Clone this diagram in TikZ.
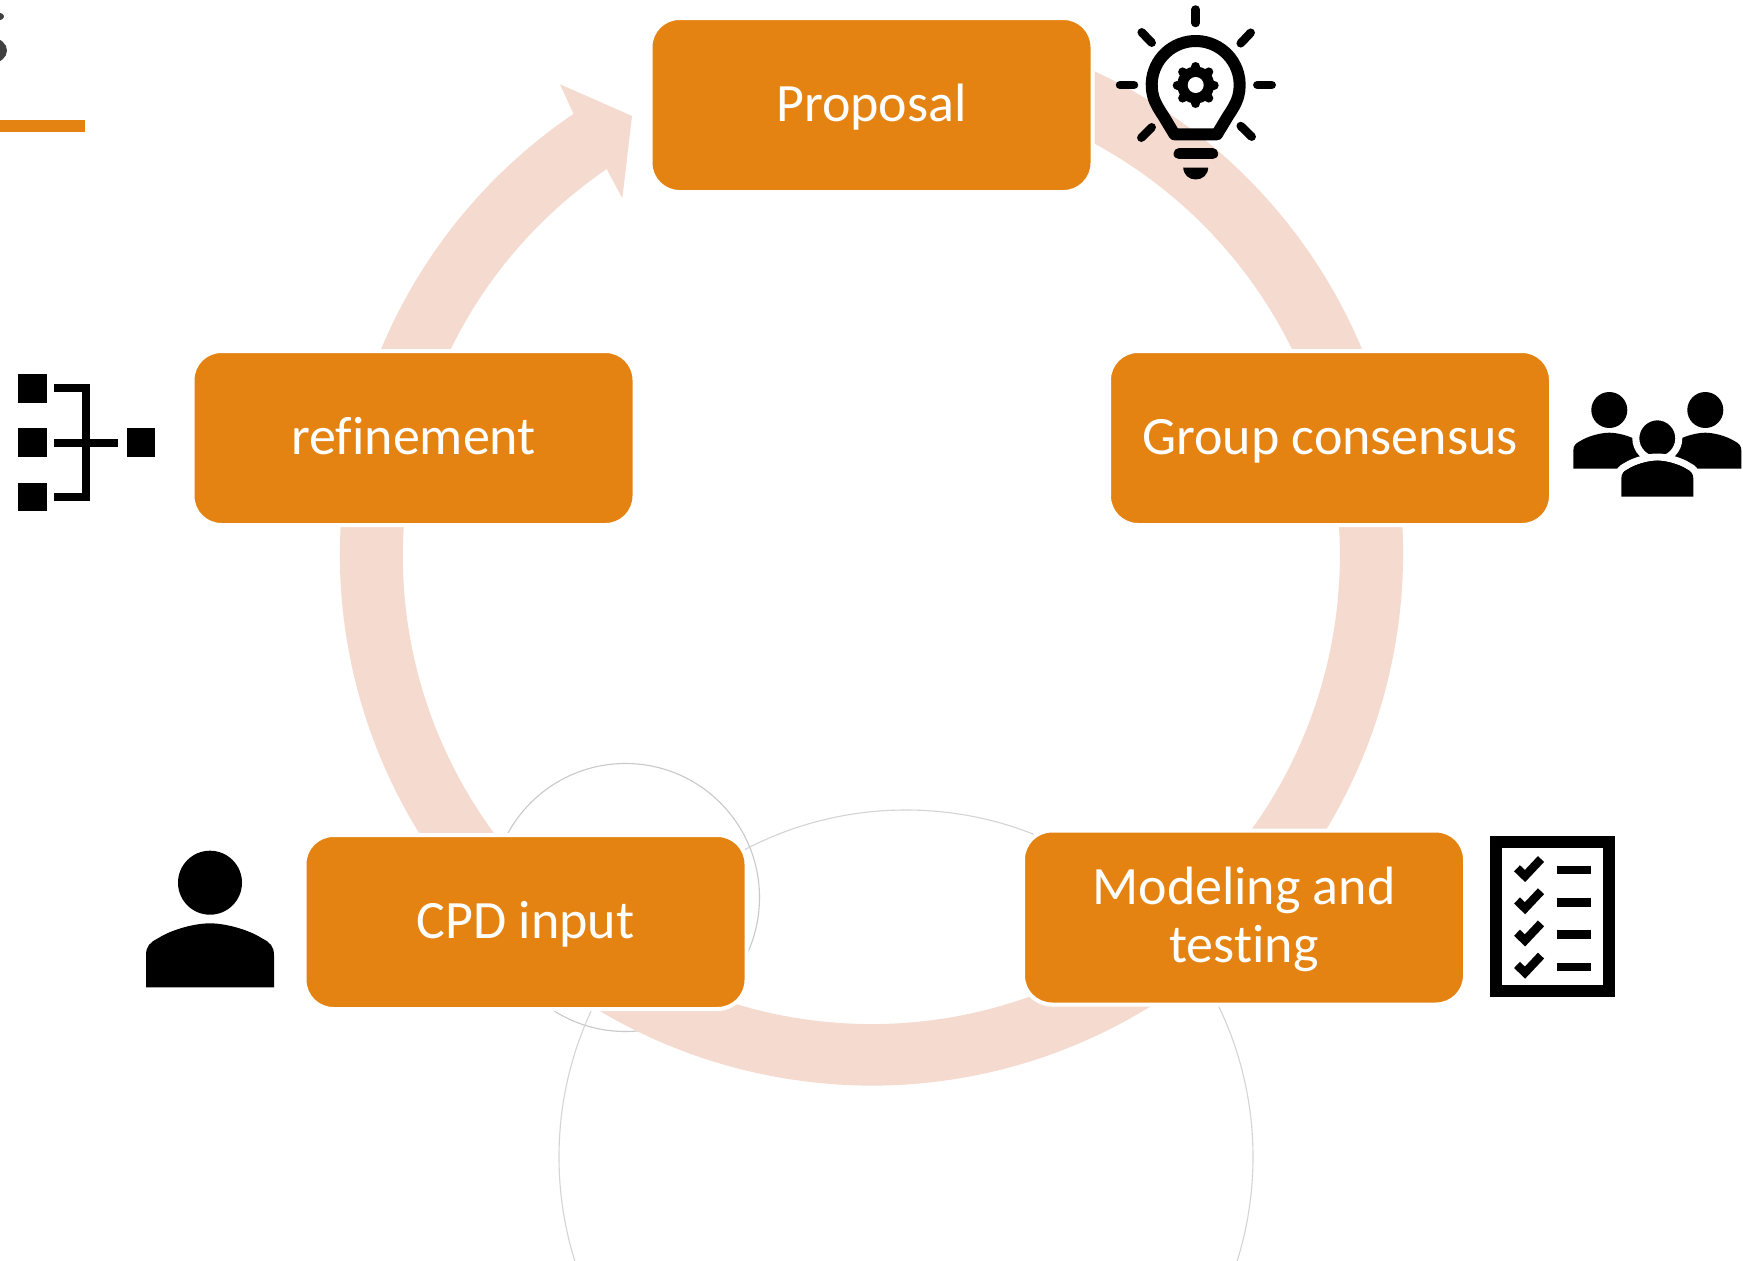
\documentclass[tikz,border=0pt]{standalone}
\usepackage{fontspec}
\setmainfont[Ligatures=NoCommon]{Carlito}
\definecolor{ringpink}{HTML}{F5DACF}
\definecolor{boxorange}{HTML}{E48312}
\definecolor{thinarc}{HTML}{C9C9C9}
\definecolor{glyphgrey}{HTML}{404040}
\newcommand{\linestrut}{\rule[-12pt]{0pt}{56pt}}
\tikzset{
  stagebox/.style={rectangle,rounded corners=29pt,minimum width=442pt,minimum height=174pt,
    fill=boxorange,draw=white,line width=4pt,text=white,align=center,inner sep=0pt,
    font=\fontsize{54}{58}\selectfont},
  bodyshape/.pic={
    \path[pic actions] (-64,64) -- (-64,32) .. controls (-64,23) and (-60,19) .. (-52,15)
      .. controls (-38,6) and (-15,0) .. (0,0) .. controls (15,0) and (38,6) .. (52,15)
      .. controls (60,19) and (64,23) .. (64,32) -- (64,64) -- cycle;
  },
  icon/.style={black,line width=8pt},
}
\begin{document}
\begin{tikzpicture}[x=1pt,y=-1pt]
\useasboundingbox (0,0) rectangle (1743,1261);
\clip (0,0) rectangle (1743,1261);
\fill[white] (0,0) rectangle (1743,1261);
% title remnants
\fill[boxorange] (0,120) rectangle (85,132);
\fill[glyphgrey] (-8,50.5) ellipse [x radius=15,y radius=12.5];
\fill[glyphgrey] (-3,16.5) ellipse [x radius=7,y radius=4];
% thin arcs
\coordinate (smallc) at (625.5,897.5);
\coordinate (bigc) at (906,1157);
\draw[thinarc,line width=1.1pt] (smallc) circle [radius=134];
\draw[thinarc!80,line width=1.1pt] (bigc) circle [radius=347];
% ring with arrowhead
\coordinate (ringc) at (871.5,554);
\fill[ringpink] (ringc) ++(-80:531.5) arc[start angle=-80,end angle=235.9,radius=531.5]
  -- (560,84.3) -- (632,116) -- (622.3,198.3) -- (606.7,169)
  arc[start angle=235.6,end angle=-80,radius=468.5] -- cycle;
% stages
\node[stagebox] (proposal) at (871.5,105) {\linestrut Proposal};
\node[stagebox] (group) at (1330,438) {\linestrut Group consensus};
\node[stagebox] (refine) at (413.5,438) {\linestrut refinement};
\node[stagebox] (cpd) at (525.5,922) {\linestrut CPD input};
\node[stagebox] (model) at (1244,917.5) {\linestrut Modeling and\\\linestrut testing};
% bulb
\draw[black,line width=12pt,line join=round] (1195.7,85) ++(165:44) arc[start angle=165,end angle=375,radius=44]
  .. controls (1236,104) and (1232,110) .. (1228,116) -- (1217,134.3) -- (1174.4,134.3) -- (1163.4,116)
  .. controls (1159.4,110) and (1155.4,104) .. cycle;
\draw[black,line width=11pt,line cap=round] (1179,153.8) -- (1212.7,153.8);
\fill[black] (1183.2,167.5) .. controls (1183.5,175) and (1189,179.5) .. (1195.7,179.5)
  .. controls (1202.4,179.5) and (1207.9,175) .. (1208.2,167.5) -- cycle;
\foreach \a/\b/\c/\d in {1195.7/9.5/1195.7/23, 1120/85/1134/85, 1257.3/85/1271.7/85,
  1141.7/32.3/1151.7/42.7, 1250.7/32.7/1240.7/43.3, 1151.7/127.3/1141.3/137.7, 1240.7/126/1251.7/136.7}
  \draw[black,line width=8.5pt,line cap=round] (\a,\b) -- (\c,\d);
\fill[black] (1195.7,85) circle [radius=18.5];
\foreach \t in {0,45,...,315}
  \draw[black,line width=9pt,line cap=round] (1195.7,85) ++(\t:15) -- ++(\t:3.5);
\fill[white] (1195.7,85) circle [radius=8];
% org chart
\fill[black] (18.3,374.3) rectangle (46.7,402.7);
\fill[black] (18.3,428.3) rectangle (46.7,456.7);
\fill[black] (18.3,482.7) rectangle (46.7,511);
\fill[black] (126.7,428.3) rectangle (155,456.7);
\draw[icon] (54.3,388.3) -- (86.3,388.3) -- (86.3,496.7) -- (54.3,496.7);
\draw[icon] (54.3,442.7) -- (118.3,442.7);
% group
\fill[black] (1609.3,410) circle [radius=18];
\fill[black] (1705.3,410) circle [radius=18];
\pic[fill=black,scale=0.5625] at (1609.3,432.7) {bodyshape};
\pic[fill=black,scale=0.5625] at (1705.3,432.7) {bodyshape};
\fill[black,draw=white,line width=7pt] (1657.3,438.3) circle [radius=21.5];
\pic[fill=black,draw=white,line width=7pt,scale=0.6] at (1657.3,457) {bodyshape};
\fill[white] (1620,497.6) rectangle (1695,505);
\pic[fill=black,scale=0.5625] at (1657.3,460.7) {bodyshape};
% person
\fill[black] (210,882.7) circle [radius=32];
\pic[fill=black] at (210,923.3) {bodyshape};
% checklist
\draw[black,line width=12.3pt] (1496.15,842.15) rectangle (1608.85,991.15);
\foreach \k in {0,1,2,3}{
  \draw[black,line width=8.5pt] (1517,868.3+32.2*\k) -- (1525,876+32.2*\k) -- (1541,859+32.2*\k);
  \draw[black,line width=8.3pt] (1556.7,870.2+32.2*\k) -- (1590.7,870.2+32.2*\k);
}
\end{tikzpicture}
\end{document}
